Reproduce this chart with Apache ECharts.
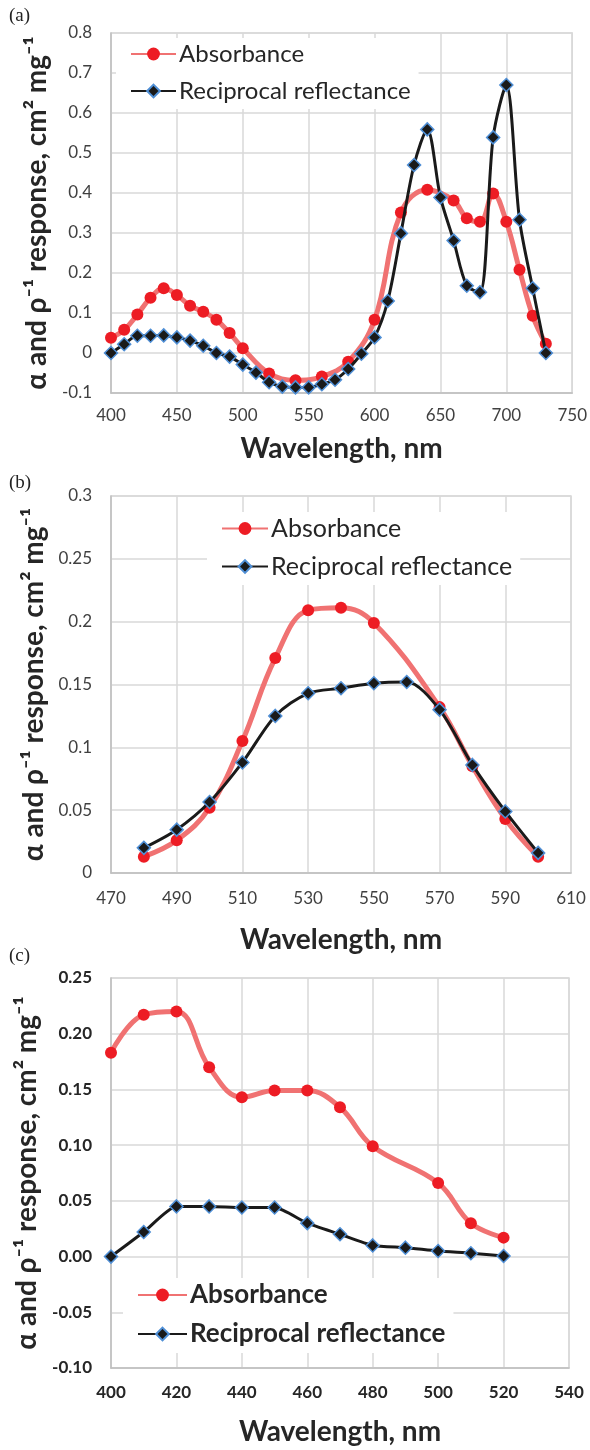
<!DOCTYPE html>
<html>
<head>
<meta charset="utf-8">
<script src="https://cdn.jsdelivr.net/npm/echarts@6/dist/echarts.min.js"></script>
<style>
html,body{margin:0;padding:0;background:#fff;}
#chart{width:590px;height:1450px;}
</style>
</head>
<body>
<div id="chart"></div>
<script>
// ---------- DATA ----------
// Panel (a)
const A_ABS_X = [400,410,420,430,440,450,460,470,480,490,500,520,540,560,580,600,620,640,660,670,680,690,700,710,720,730];
const A_ABS_Y = [0.038,0.058,0.096,0.138,0.162,0.145,0.118,0.103,0.083,0.050,0.012,-0.051,-0.068,-0.059,-0.022,0.083,0.351,0.408,0.381,0.337,0.328,0.399,0.328,0.208,0.093,0.023];
const A_REF_X = [400,410,420,430,440,450,460,470,480,490,500,510,520,530,540,550,560,570,580,590,600,610,620,630,640,650,660,670,680,690,700,710,720,730];
const A_REF_Y = [0,0.022,0.043,0.043,0.044,0.039,0.031,0.018,0,-0.009,-0.029,-0.049,-0.073,-0.084,-0.086,-0.086,-0.078,-0.067,-0.040,-0.002,0.039,0.130,0.299,0.470,0.559,0.389,0.281,0.168,0.152,0.539,0.670,0.333,0.162,0];
// Panel (b)
const B_ABS_X = [480,490,500,510,520,530,540,550,570,580,590,600];
const B_ABS_Y = [0.013,0.026,0.052,0.105,0.171,0.209,0.211,0.199,0.132,0.085,0.043,0.013];
const B_REF_X = [480,490,500,510,520,530,540,550,560,570,580,590,600];
const B_REF_Y = [0.020,0.0345,0.0565,0.088,0.125,0.143,0.147,0.151,0.152,0.130,0.086,0.049,0.016];
// Panel (c)
const C_ABS_X = [400,410,420,430,440,450,460,470,480,500,510,520];
const C_ABS_Y = [0.183,0.217,0.220,0.170,0.143,0.149,0.149,0.134,0.099,0.066,0.030,0.017];
const C_REF_X = [400,410,420,430,440,450,460,470,480,490,500,510,520];
const C_REF_Y = [0,0.022,0.045,0.045,0.044,0.044,0.030,0.020,0.010,0.008,0.005,0.003,0.0005];

const SERIES_NAMES = ['Absorbance','Reciprocal reflectance'];
const PANEL_LABELS = ['(a)','(b)','(c)'];
const X_TITLE = 'Wavelength, nm';
const Y_TITLE = 'α and ρ⁻¹ response, cm² mg⁻¹';

// ---------- STYLE ----------
const FONT = 'Lato, "Open Sans", sans-serif';
const RED_LINE = '#f07272';
const RED_DOT = '#ed1c24';
const BLK = '#1a1a1a';
const BLUE_EDGE = '#4f8fd6';
const GRID_C = '#d9d9d9';
const AXIS_C = '#bfbfbf';
const TXT = '#404040';

function pairs(xs, ys){ return xs.map((x,i)=>[x, ys[i]]); }

function xAxis(gi, min, max, interval, bold, margin, nameGap){
  return {
    type:'value', gridIndex:gi, min, max, interval,
    name:X_TITLE, nameLocation:'middle', nameGap,
    nameTextStyle:{fontFamily:FONT, fontWeight:'bold', fontSize:28, color:'#262626'},
    axisLine:{show:true, onZero:false, lineStyle:{color:AXIS_C, width:1.5}},
    axisTick:{show:false},
    axisLabel:{fontFamily:FONT, fontSize:17, color:bold?'#262626':TXT, fontWeight:bold?'bold':'normal', margin},
    splitLine:{show:true, lineStyle:{color:GRID_C, width:1.5}}
  };
}
function yAxis(gi, min, max, interval, fmt, bold, nameGap){
  return {
    type:'value', gridIndex:gi, min, max, interval,
    name:Y_TITLE, nameLocation:'middle', nameGap, nameRotate:90,
    nameTextStyle:{fontFamily:FONT, fontWeight:'bold', fontSize:28, color:'#262626'},
    axisLine:{show:true, lineStyle:{color:AXIS_C, width:1.5}},
    axisTick:{show:false},
    axisLabel:{fontFamily:FONT, fontSize:17, color:bold?'#262626':TXT, fontWeight:bold?'bold':'normal', margin:19, formatter:fmt},
    splitLine:{show:true, lineStyle:{color:GRID_C, width:1.5}}
  };
}
const trimFmt = v => String(Number(v.toFixed(2)));
const fixFmt = v => v.toFixed(2);

function absSeries(gi, data){
  return {
    name:SERIES_NAMES[0], type:'line', xAxisIndex:gi, yAxisIndex:gi, data,
    smooth:0.4, symbol:'circle', symbolSize:12,
    lineStyle:{color:RED_LINE, width:5},
    itemStyle:{color:RED_DOT, borderWidth:0},
    z:2
  };
}
function refSeries(gi, data, smooth){
  return {
    name:SERIES_NAMES[1], type:'line', xAxisIndex:gi, yAxisIndex:gi, data,
    smooth, symbol:'diamond', symbolSize:13,
    lineStyle:{color:BLK, width:3},
    itemStyle:{color:BLK, borderColor:BLUE_EDGE, borderWidth:1.5},
    z:3
  };
}
function legend(left, top, bold, fontSize, gap, w){
  return {
    data:SERIES_NAMES, orient:'vertical', left, top,
    itemWidth:w, itemHeight:16, itemGap:gap,
    backgroundColor:'#fff', padding:[4,8,6,14],
    textStyle:{fontFamily:FONT, fontSize, color:'#262626', fontWeight:bold?'bold':'normal', padding:[0,0,0,-2]},
    selectedMode:false
  };
}

const chart = echarts.init(document.getElementById('chart'), null, {renderer:'canvas'});
chart.setOption({
  animation:false,
  backgroundColor:'#fff',
  grid:[
    {left:111, top:33, width:463, height:360, show:true, borderColor:GRID_C, borderWidth:1.5, backgroundColor:'transparent'},
    {left:111, top:496, width:460, height:377, show:true, borderColor:GRID_C, borderWidth:1.5, backgroundColor:'transparent'},
    {left:111, top:978, width:458, height:390, show:true, borderColor:GRID_C, borderWidth:1.5, backgroundColor:'transparent'}
  ],
  xAxis:[
    xAxis(0, 400, 750, 50, false, 14, 42),
    xAxis(1, 470, 610, 20, false, 17, 53),
    xAxis(2, 400, 540, 20, true, 16, 50)
  ],
  yAxis:[
    yAxis(0, -0.1, 0.8, 0.1, trimFmt, false, 58),
    yAxis(1, 0, 0.3, 0.05, trimFmt, false, 58),
    yAxis(2, -0.1, 0.25, 0.05, fixFmt, true, 58)
  ],
  legend:[
    legend(116, 38, false, 24, 13, 45),
    legend(207, 512, false, 25, 13, 46),
    legend(123, 1278, true, 26, 13, 49)
  ],
  graphic:[
    {type:'text', left:9, top:7, style:{text:PANEL_LABELS[0], font:'19px "Liberation Serif", "DejaVu Serif", serif', fill:'#222'}},
    {type:'text', left:9, top:474, style:{text:PANEL_LABELS[1], font:'19px "Liberation Serif", "DejaVu Serif", serif', fill:'#222'}},
    {type:'text', left:9, top:947, style:{text:PANEL_LABELS[2], font:'19px "Liberation Serif", "DejaVu Serif", serif', fill:'#222'}}
  ],
  series:[
    absSeries(0, pairs(A_ABS_X, A_ABS_Y)),
    refSeries(0, pairs(A_REF_X, A_REF_Y), 0.3),
    absSeries(1, pairs(B_ABS_X, B_ABS_Y)),
    refSeries(1, pairs(B_REF_X, B_REF_Y), 0.3),
    absSeries(2, pairs(C_ABS_X, C_ABS_Y)),
    refSeries(2, pairs(C_REF_X, C_REF_Y), 0.2)
  ]
});
</script>
</body>
</html>
